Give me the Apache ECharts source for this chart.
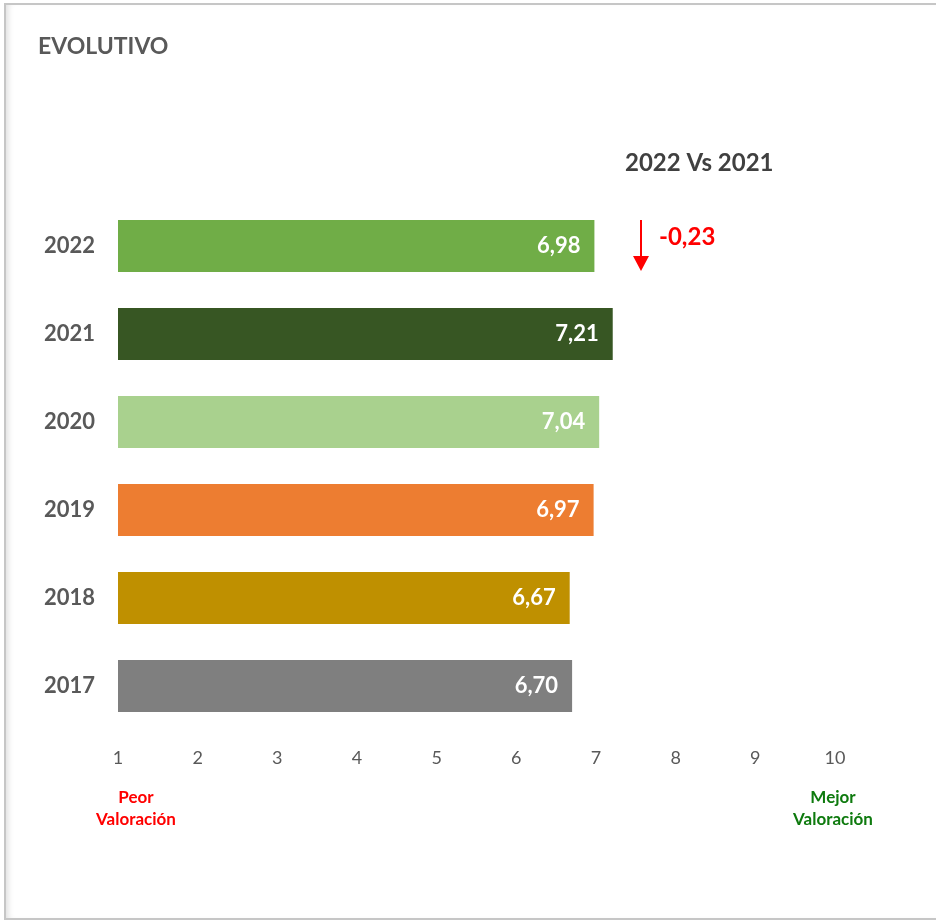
<!DOCTYPE html>
<html>
<head>
<meta charset="utf-8">
<script src="https://cdn.jsdelivr.net/npm/echarts@6/dist/echarts.min.js"></script>
<style>
html,body{margin:0;padding:0;background:#fff;}
#frame{position:absolute;left:4px;top:3px;width:940px;height:913px;border:2px solid #c6c6c6;box-shadow:inset 6px 0 6px -4px #ddd;}
#chart{position:absolute;left:0;top:0;width:936px;height:922px;}
</style>
</head>
<body>
<div id="frame"></div>
<div id="chart"></div>
<script>
const years = ['2017','2018','2019','2020','2021','2022'];
const values = [6.70, 6.67, 6.97, 7.04, 7.21, 6.98];
const colors = ['#7F7F7F','#BF9000','#ED7D31','#A9D18E','#375623','#70AD47'];
const axisTicks = [1,2,3,4,5,6,7,8,9,10];
const diffLabel = '-0,23';
const compareTitle = '2022 Vs 2021';

const FONT = 'Lato, "Open Sans", sans-serif';
const chart = echarts.init(document.getElementById('chart'));
chart.setOption({
  animation: false,
  grid: {left: 118, right: 101, top: 202, bottom: 192, containLabel: false},
  xAxis: {
    type: 'value', min: 1, max: 10, interval: 1,
    axisLine: {show: false}, axisTick: {show: false}, splitLine: {show: false},
    axisLabel: {color: '#595959', fontSize: 18, fontFamily: FONT, margin: 19,
      formatter: v => axisTicks.includes(v) ? String(v) : ''}
  },
  yAxis: {
    type: 'category', data: years,
    axisLine: {show: false}, axisTick: {show: false},
    axisLabel: {color: '#595959', fontSize: 22, fontWeight: 'bold', fontFamily: FONT, margin: 23}
  },
  series: [{
    type: 'bar',
    barWidth: 52,
    data: values.map((v, i) => ({value: v, itemStyle: {color: colors[i]}})),
    label: {
      show: true, position: 'insideRight', distance: 14,
      color: '#fff', fontSize: 22, fontWeight: 'bold', fontFamily: FONT,
      formatter: p => p.value.toFixed(2).replace('.', ',')
    }
  }],
  graphic: [
    {type: 'text', left: 38, top: 35, style: {text: 'EVOLUTIVO', fill: '#595959', font: 'bold 23px ' + FONT}},
    {type: 'text', left: 625, top: 151, style: {text: compareTitle, fill: '#404040', font: 'bold 24px ' + FONT}},
    {type: 'line', shape: {x1: 641, y1: 220, x2: 641, y2: 262}, style: {stroke: '#FF0000', lineWidth: 2}},
    {type: 'polygon', shape: {points: [[633, 256], [649, 256], [641, 271]]}, style: {fill: '#FF0000'}},
    {type: 'text', left: 659, top: 225, style: {text: diffLabel, fill: '#FF0000', font: 'bold 24px ' + FONT}},
    {type: 'text', x: 136, y: 809, style: {text: 'Peor\nValoración', fill: '#FF0000', font: 'bold 17px ' + FONT, align: 'center', verticalAlign: 'middle', lineHeight: 22}},
    {type: 'text', x: 833, y: 809, style: {text: 'Mejor\nValoración', fill: '#0E7A0E', font: 'bold 17px ' + FONT, align: 'center', verticalAlign: 'middle', lineHeight: 22}}
  ]
});
</script>
</body>
</html>
